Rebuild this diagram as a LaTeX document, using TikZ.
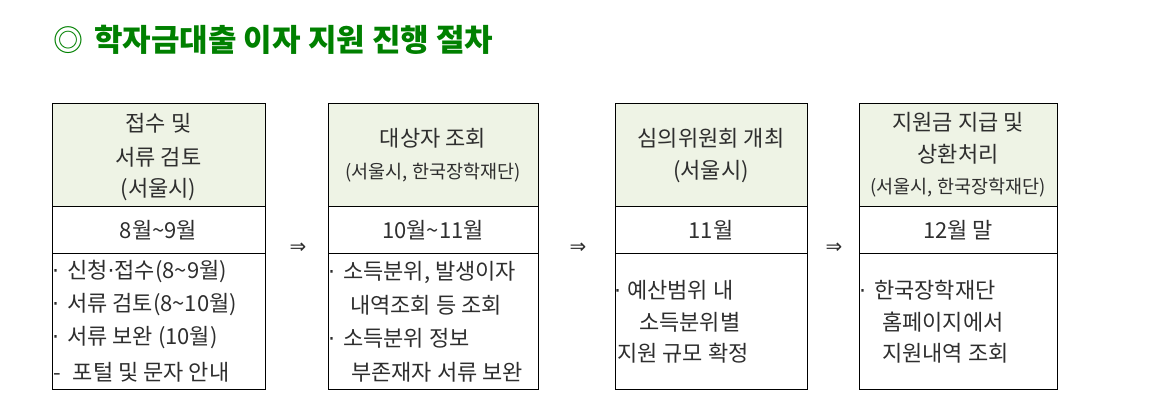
\documentclass[tikz,border=0pt]{standalone}
\usepackage{fontspec}
\setmainfont{Noto Sans CJK KR}
\newfontfamily\symfont{DejaVu Sans}
\newcommand\bdot{{\symfont ·}}
\newcommand\bsp[1]{\bdot\hspace{#1}}
\definecolor{hdr}{HTML}{EEF3E5}
\definecolor{ttl}{HTML}{008000}
\definecolor{txt}{HTML}{2E2E2E}
\begin{document}
\begin{tikzpicture}[x=1pt,y=-1pt,
  cell/.style={draw=black,line width=1.2pt,inner sep=0pt,anchor=north west},
  hdrcell/.style={cell,fill=hdr},
  lbl/.style={text=txt,font=\fontsize{22}{24}\selectfont,inner sep=0pt},
  sml/.style={text=txt,font=\fontsize{18.5}{20}\selectfont,inner sep=0pt},
  bl/.style={lbl,anchor=west},
  arr/.style={text=txt,font=\symfont\fontsize{20}{22}\selectfont,inner sep=0pt}]
\useasboundingbox (0,0) rectangle (1156,408);
% title
\node[text=ttl,font=\fontsize{30}{32}\selectfont,inner sep=0pt] (mark) at (68,40) {◎};
\node[text=ttl,font=\bfseries\fontsize{31}{34}\selectfont,inner sep=0pt,anchor=west] (title) at (94,40) {학자금대출 이자 지원 진행 절차};
% box 1
\node[hdrcell,minimum width=213pt,minimum height=103pt] (h1) at (52,103) {};
\node[cell,minimum width=213pt,minimum height=47pt] (m1) at (52,206) {};
\node[cell,minimum width=213pt,minimum height=136pt] (b1) at (52,253) {};
\node[lbl] (h1a) at (158.5,123) {접수 및};
\node[lbl] (h1b) at (158.5,157) {서류 검토};
\node[lbl] (h1c) at (158.5,190) {(서울시)};
\node[lbl] (m1t) at (158.5,230) {8월\textasciitilde9월};
\node[bl] (b1a) at (52,272) {\bsp{8pt}신청\bdot 접수(8\textasciitilde9월)};
\node[bl] (b1b) at (52,305) {\bsp{8pt}서류 검토(8\textasciitilde10월)};
\node[bl] (b1c) at (52,338) {\bsp{8pt}서류 보완 (10월)};
\node[bl] (b1d) at (53,372) {-\hspace{12pt}포털 및 문자 안내};
% arrow 1
\node[arr] (a1) at (298,248) {⇒};
% box 2
\node[hdrcell,minimum width=210pt,minimum height=103pt] (h2) at (328,103) {};
\node[cell,minimum width=210pt,minimum height=47pt] (m2) at (328,206) {};
\node[cell,minimum width=210pt,minimum height=136pt] (b2) at (328,253) {};
\node[lbl] (h2a) at (433,138) {대상자 조회};
\node[sml] (h2b) at (433,173) {(서울시, 한국장학재단)};
\node[lbl] (m2t) at (433,230) {10월\textasciitilde11월};
\node[bl] (b2a) at (328,272) {\bsp{8pt}소득분위, 발생이자};
\node[bl] (b2b) at (350,305) {내역조회 등 조회};
\node[bl] (b2c) at (328,338) {\bsp{8pt}소득분위 정보};
\node[bl] (b2d) at (351,372) {부존재자 서류 보완};
% arrow 2
\node[arr] (a2) at (578,248) {⇒};
% box 3
\node[hdrcell,minimum width=192pt,minimum height=103pt] (h3) at (615,103) {};
\node[cell,minimum width=192pt,minimum height=47pt] (m3) at (615,206) {};
\node[cell,minimum width=192pt,minimum height=136pt] (b3) at (615,253) {};
\node[lbl] (h3a) at (711,138) {심의위원회 개최};
\node[lbl] (h3b) at (711,172) {(서울시)};
\node[lbl] (m3t) at (711,230) {11월};
\node[bl] (b3a) at (614,290) {\bsp{6pt}예산범위 내};
\node[bl] (b3b) at (639,322) {소득분위별};
\node[bl] (b3c) at (617,353) {지원 규모 확정};
% arrow 3
\node[arr] (a3) at (834,248) {⇒};
% box 4
\node[hdrcell,minimum width=198pt,minimum height=103pt] (h4) at (859,103) {};
\node[cell,minimum width=198pt,minimum height=47pt] (m4) at (859,206) {};
\node[cell,minimum width=198pt,minimum height=136pt] (b4) at (859,253) {};
\node[lbl] (h4a) at (958,122) {지원금 지급 및};
\node[lbl] (h4b) at (958,154) {상환처리};
\node[sml] (h4c) at (958,188) {(서울시, 한국장학재단)};
\node[lbl] (m4t) at (958,230) {12월 말};
\node[bl] (b4a) at (859,290) {\bsp{8pt}한국장학재단};
\node[bl] (b4b) at (882,322) {홈페이지에서};
\node[bl] (b4c) at (882,353) {지원내역 조회};
\end{tikzpicture}
\end{document}
